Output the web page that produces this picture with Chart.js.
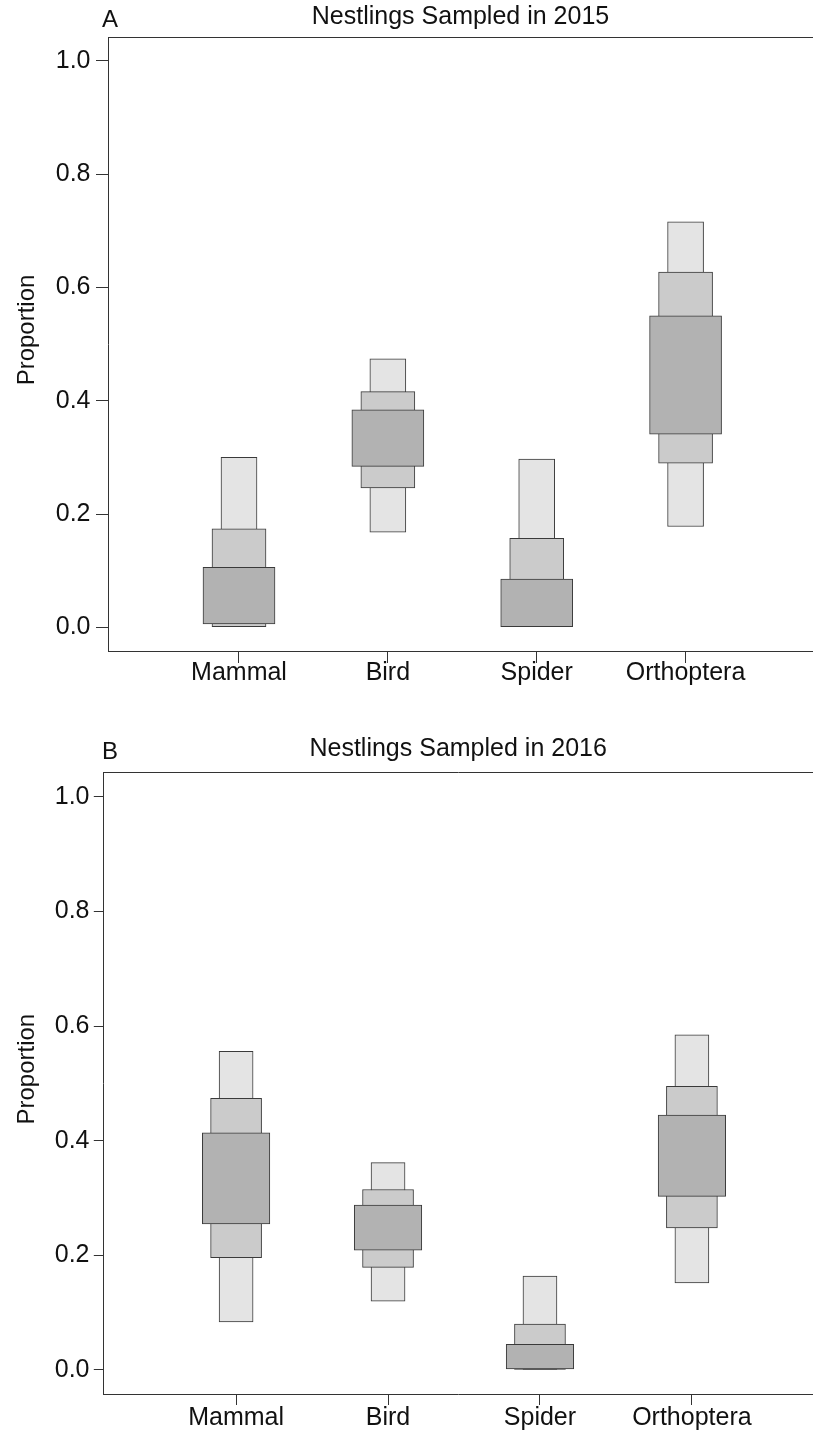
<!DOCTYPE html>
<html>
<head>
<meta charset="utf-8">
<title>Nestling diet proportions</title>
<script src="https://cdn.jsdelivr.net/npm/chart.js@4.4.1/dist/chart.umd.min.js"></script>
<style>
  html, body { margin: 0; padding: 0; background: #ffffff; overflow: hidden; }
  canvas { position: absolute; left: 0; }
  #c2015 { top: 0; }
  #c2016 { top: 700px; }
</style>
</head>
<body>
<canvas id="c2015" width="813" height="700"></canvas>
<canvas id="c2016" width="813" height="735"></canvas>
<script>
// Prey categories and y-axis tick values
const categories = ['Mammal', 'Bird', 'Spider', 'Orthoptera'];
const yTickValues = [0.0, 0.2, 0.4, 0.6, 0.8, 1.0];

// Letter-value boxes per category, [lower, upper]; inner = widest box
const inner2015  = [[0.006, 0.106], [0.284, 0.384], [0.001, 0.085], [0.341, 0.550]];
const middle2015 = [[0.000, 0.174], [0.246, 0.416], [0.000, 0.157], [0.290, 0.627]];
const outer2015  = [[0.000, 0.300], [0.168, 0.474], [0.000, 0.297], [0.178, 0.716]];

const inner2016  = [[0.255, 0.414], [0.209, 0.288], [0.002, 0.045], [0.303, 0.445]];
const middle2016 = [[0.196, 0.474], [0.179, 0.315], [0.000, 0.080], [0.248, 0.495]];
const outer2016  = [[0.084, 0.556], [0.120, 0.362], [0.000, 0.164], [0.152, 0.585]];

const FONT = '"Liberation Sans", Arial, Helvetica, sans-serif';
const INK = '#111111';
const LINE = '#333333';

// Panel letter and rotated y-axis title
const panelText = {
  id: 'panelText',
  afterDraw(chart, args, opts) {
    const { ctx, scales } = chart;
    ctx.save();
    ctx.fillStyle = INK;
    ctx.font = '24px ' + FONT;
    ctx.textAlign = 'left';
    ctx.textBaseline = 'alphabetic';
    ctx.fillText(opts.tag, opts.tagX, opts.tagY);
    ctx.translate(opts.yTitleX, scales.y.getPixelForValue(opts.yTitleAt));
    ctx.rotate(-Math.PI / 2);
    ctx.textAlign = 'center';
    ctx.textBaseline = 'middle';
    ctx.fillText(opts.yTitle, 0, 0);
    ctx.restore();
  }
};

function toPoints(boxes) {
  return boxes.map((b, i) => ({ x: i + 1, y: b }));
}

function buildPanel(p) {
  const barStyle = {
    borderColor: '#3a3a3a',
    borderWidth: 1,
    borderSkipped: false,
    grouped: false
  };
  const datasets = [
    Object.assign({ label: 'inner',  data: toPoints(p.inner),  backgroundColor: '#b2b2b2', barThickness: p.widths[0], order: 1 }, barStyle),
    Object.assign({ label: 'middle', data: toPoints(p.middle), backgroundColor: '#cbcbcb', barThickness: p.widths[1], order: 2 }, barStyle),
    Object.assign({ label: 'outer',  data: toPoints(p.outer),  backgroundColor: '#e4e4e4', barThickness: p.widths[2], order: 3 }, barStyle)
  ];

  return new Chart(document.getElementById(p.canvas), {
    type: 'bar',
    data: { datasets },
    options: {
      responsive: false,
      animation: false,
      devicePixelRatio: 1,
      layout: { padding: 0 },
      plugins: {
        legend: { display: false },
        tooltip: { enabled: false },
        title: { display: false },
        panelText: {
          tag: p.tag, tagX: p.tagX, tagY: p.tagY,
          yTitle: 'Proportion', yTitleX: 27, yTitleAt: 0.525
        }
      },
      scales: {
        x: {
          type: 'linear',
          position: 'bottom',
          min: p.xMin,
          max: p.xMax,
          offset: false,
          afterBuildTicks: s => { s.ticks = categories.map((c, i) => ({ value: i + 1 })); },
          afterFit: s => { s.height = p.bottomH; },
          ticks: {
            callback: v => categories[Math.round(v) - 1],
            font: { family: FONT, size: 25, lineHeight: 1 },
            color: INK,
            padding: p.xLabelPad,
            maxRotation: 0,
            autoSkip: false
          },
          grid: { display: true, offset: false, drawOnChartArea: false, drawTicks: true, tickLength: p.xTickLen, color: LINE, lineWidth: 1 },
          border: { display: true, color: LINE, width: 1 }
        },
        x2: {
          type: 'linear',
          position: 'top',
          min: p.xMin,
          max: p.xMax,
          afterFit: s => { s.height = p.topH; },
          ticks: { display: false },
          grid: { display: false, offset: false },
          border: { display: true, color: LINE, width: 1 },
          title: {
            display: true,
            text: p.title,
            font: { family: FONT, size: 25, lineHeight: 1 },
            color: INK,
            padding: { top: p.titlePad, bottom: 0 }
          }
        },
        y: {
          type: 'linear',
          position: 'left',
          min: p.yMin,
          max: p.yMax,
          afterBuildTicks: s => { s.ticks = yTickValues.map(v => ({ value: v })); },
          afterFit: s => { s.width = p.axisW; },
          ticks: {
            callback: v => Number(v).toFixed(1),
            font: { family: FONT, size: 25, lineHeight: 1 },
            color: INK,
            padding: p.yLabelPad
          },
          grid: { display: true, drawOnChartArea: false, drawTicks: true, tickLength: p.yTickLen, color: LINE, lineWidth: 1 },
          border: { display: true, color: LINE, width: 1 }
        }
      }
    },
    plugins: [panelText]
  });
}

buildPanel({
  canvas: 'c2015', tag: 'A', tagX: 102, tagY: 27.3,
  title: 'Nestlings Sampled in 2015', titlePad: 4.8,
  inner: inner2015, middle: middle2015, outer: outer2015,
  widths: [72, 54, 36],
  xMin: 0.120, xMax: 4.856, yMin: -0.0419, yMax: 1.0411,
  axisW: 108, topH: 37.7, bottomH: 49,
  xTickLen: 12, yTickLen: 12, xLabelPad: -2.5, yLabelPad: 5.5
});

buildPanel({
  canvas: 'c2016', tag: 'B', tagX: 102, tagY: 59.3,
  title: 'Nestlings Sampled in 2016', titlePad: 37.1,
  inner: inner2016, middle: middle2016, outer: outer2016,
  widths: [67.5, 51, 34],
  xMin: 0.126, xMax: 4.797, yMin: -0.0419, yMax: 1.0424,
  axisW: 103.3, topH: 72.7, bottomH: 41,
  xTickLen: 11, yTickLen: 9.5, xLabelPad: 0.5, yLabelPad: 4.3
});
</script>
</body>
</html>
